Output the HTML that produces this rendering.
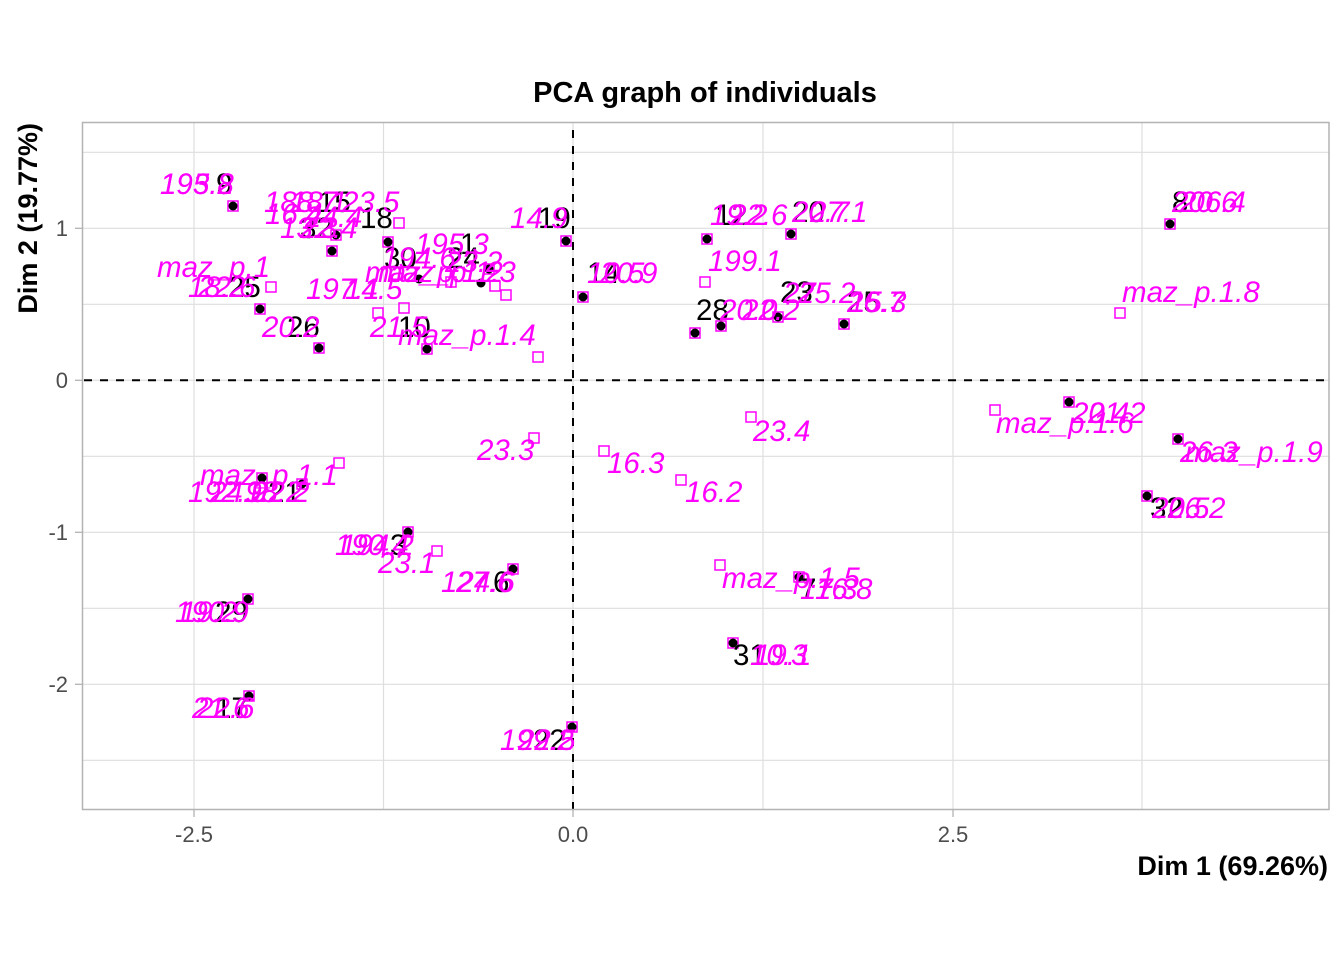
<!DOCTYPE html>
<html><head><meta charset="utf-8"><style>
html,body{margin:0;padding:0;background:#fff;}
svg{display:block;}
.m{fill:#ff00ff;font-style:italic;font-family:"Liberation Sans",sans-serif;font-size:29.5px;}
.b{fill:#000;font-family:"Liberation Sans",sans-serif;font-size:29.5px;}
.tk{fill:#4d4d4d;font-family:"Liberation Sans",sans-serif;font-size:22px;}
.ax{fill:#000;font-family:"Liberation Sans",sans-serif;font-size:27px;font-weight:bold;}
</style></head><body>
<svg width="1344" height="960" viewBox="0 0 1344 960" xmlns="http://www.w3.org/2000/svg">
<rect width="1344" height="960" fill="#fff"/>
<!-- grid -->
<g stroke="#dedede" stroke-width="1.2">
<line x1="194" y1="122" x2="194" y2="810"/>
<line x1="383.5" y1="122" x2="383.5" y2="810"/>
<line x1="573" y1="122" x2="573" y2="810"/>
<line x1="763" y1="122" x2="763" y2="810"/>
<line x1="953" y1="122" x2="953" y2="810"/>
<line x1="1142" y1="122" x2="1142" y2="810"/>
<line x1="82" y1="152.3" x2="1329" y2="152.3"/>
<line x1="82" y1="228.3" x2="1329" y2="228.3"/>
<line x1="82" y1="304.3" x2="1329" y2="304.3"/>
<line x1="82" y1="380.3" x2="1329" y2="380.3"/>
<line x1="82" y1="456.3" x2="1329" y2="456.3"/>
<line x1="82" y1="532.3" x2="1329" y2="532.3"/>
<line x1="82" y1="608.3" x2="1329" y2="608.3"/>
<line x1="82" y1="684.3" x2="1329" y2="684.3"/>
<line x1="82" y1="760.3" x2="1329" y2="760.3"/>
</g>
<!-- dashed axes -->
<g stroke="#000" stroke-width="2" stroke-dasharray="8 8">
<line x1="573" y1="130" x2="573" y2="810"/>
<line x1="84" y1="380.3" x2="1329" y2="380.3"/>
</g>
<!-- panel border -->
<rect x="82.5" y="122.5" width="1246.5" height="687" fill="none" stroke="#b3b3b3" stroke-width="1.5"/>
<!-- ticks -->
<g stroke="#b3b3b3" stroke-width="1.3">
<line x1="194" y1="810" x2="194" y2="817"/>
<line x1="573" y1="810" x2="573" y2="817"/>
<line x1="953" y1="810" x2="953" y2="817"/>
<line x1="75" y1="228.3" x2="82" y2="228.3"/>
<line x1="75" y1="380.3" x2="82" y2="380.3"/>
<line x1="75" y1="532.3" x2="82" y2="532.3"/>
<line x1="75" y1="684.3" x2="82" y2="684.3"/>
</g>
<g class="tk" text-anchor="middle">
<text x="194" y="842">-2.5</text>
<text x="573" y="842">0.0</text>
<text x="953" y="842">2.5</text>
</g>
<g class="tk" text-anchor="end">
<text x="68" y="236">1</text>
<text x="68" y="388">0</text>
<text x="68" y="540">-1</text>
<text x="68" y="692">-2</text>
</g>
<text class="ax" x="705" y="102" text-anchor="middle" style="font-size:29px">PCA graph of individuals</text>
<text class="ax" x="1328" y="875" text-anchor="end">Dim 1 (69.26%)</text>
<text class="ax" transform="translate(37,123) rotate(-90)" text-anchor="end">Dim 2 (19.77%)</text>

<!-- hollow squares -->
<g fill="none" stroke="#ff00ff" stroke-width="1.5">
<rect x="266" y="282" width="10" height="10"/>
<rect x="394" y="218" width="10" height="10"/>
<rect x="446" y="277" width="10" height="10"/>
<rect x="490" y="281" width="10" height="10"/>
<rect x="501" y="290" width="10" height="10"/>
<rect x="373" y="308" width="10" height="10"/>
<rect x="399" y="303" width="10" height="10"/>
<rect x="533" y="352" width="10" height="10"/>
<rect x="700" y="277" width="10" height="10"/>
<rect x="1115" y="308" width="10" height="10"/>
<rect x="990" y="405" width="10" height="10"/>
<rect x="529" y="433" width="10" height="10"/>
<rect x="334" y="458" width="10" height="10"/>
<rect x="432" y="546" width="10" height="10"/>
<rect x="746" y="412" width="10" height="10"/>
<rect x="599" y="446" width="10" height="10"/>
<rect x="676" y="475" width="10" height="10"/>
<rect x="715" y="560" width="10" height="10"/>
<!-- squares around dots -->
<rect x="228" y="201" width="10" height="10"/>
<rect x="331" y="230" width="10" height="10"/>
<rect x="327" y="246" width="10" height="10"/>
<rect x="383" y="237" width="10" height="10"/>
<rect x="484" y="264" width="10" height="10"/>
<rect x="561" y="236" width="10" height="10"/>
<rect x="578" y="292" width="10" height="10"/>
<rect x="255" y="304" width="10" height="10"/>
<rect x="314" y="343" width="10" height="10"/>
<rect x="422" y="344" width="10" height="10"/>
<rect x="702" y="234" width="10" height="10"/>
<rect x="786" y="229" width="10" height="10"/>
<rect x="690" y="328" width="10" height="10"/>
<rect x="716" y="321" width="10" height="10"/>
<rect x="773" y="312" width="10" height="10"/>
<rect x="839" y="319" width="10" height="10"/>
<rect x="1165" y="219" width="10" height="10"/>
<rect x="1064" y="397" width="10" height="10"/>
<rect x="1173" y="434" width="10" height="10"/>
<rect x="1142" y="491" width="10" height="10"/>
<rect x="257" y="473" width="10" height="10"/>
<rect x="297" y="479" width="10" height="10"/>
<rect x="403" y="527" width="10" height="10"/>
<rect x="508" y="564" width="10" height="10"/>
<rect x="243" y="594" width="10" height="10"/>
<rect x="244" y="691" width="10" height="10"/>
<rect x="567" y="722" width="10" height="10"/>
<rect x="794" y="572" width="10" height="10"/>
<rect x="728" y="638" width="10" height="10"/>
</g>
<!-- black dots -->
<g fill="#000">
<circle cx="233" cy="206" r="4.5"/>
<circle cx="336" cy="235" r="4.5"/>
<circle cx="332" cy="251" r="4.5"/>
<circle cx="388" cy="242" r="4.5"/>
<circle cx="489" cy="269" r="4.5"/>
<circle cx="566" cy="241" r="4.5"/>
<circle cx="583" cy="297" r="4.5"/>
<circle cx="260" cy="309" r="4.5"/>
<circle cx="319" cy="348" r="4.5"/>
<circle cx="427" cy="349" r="4.5"/>
<circle cx="707" cy="239" r="4.5"/>
<circle cx="791" cy="234" r="4.5"/>
<circle cx="695" cy="333" r="4.5"/>
<circle cx="721" cy="326" r="4.5"/>
<circle cx="778" cy="317" r="4.5"/>
<circle cx="844" cy="324" r="4.5"/>
<circle cx="1170" cy="224" r="4.5"/>
<circle cx="1069" cy="402" r="4.5"/>
<circle cx="1178" cy="439" r="4.5"/>
<circle cx="1147" cy="496" r="4.5"/>
<circle cx="262" cy="478" r="4.5"/>
<circle cx="302" cy="484" r="4.5"/>
<circle cx="408" cy="532" r="4.5"/>
<circle cx="513" cy="569" r="4.5"/>
<circle cx="248" cy="599" r="4.5"/>
<circle cx="249" cy="696" r="4.5"/>
<circle cx="572" cy="727" r="4.5"/>
<circle cx="799" cy="577" r="4.5"/>
<circle cx="733" cy="643" r="4.5"/>
<circle cx="419" cy="279" r="4.5"/>
<circle cx="481" cy="283" r="4.5"/>
</g>

<!-- black labels -->
<g class="b">
<text x="216" y="194">9</text>
<text x="318" y="212">15</text>
<text x="360" y="228">18</text>
<text x="300" y="238">32</text>
<text x="384" y="268">30</text>
<text x="447" y="268">24</text>
<text x="460" y="254">1</text>
<text x="228" y="297">25</text>
<text x="287" y="337">26</text>
<text x="398" y="337">10</text>
<text x="538" y="228">19</text>
<text x="587" y="283">14</text>
<text x="715" y="225">12</text>
<text x="792" y="222">20</text>
<text x="780" y="302">23</text>
<text x="696" y="320">28</text>
<text x="847" y="312">25</text>
<text x="1172" y="212">8</text>
<text x="1150" y="518">32</text>
<text x="268" y="502">21</text>
<text x="390" y="555">3</text>
<text x="493" y="592">6</text>
<text x="215" y="622">29</text>
<text x="215" y="718">17</text>
<text x="533" y="750">22</text>
<text x="800" y="599">7</text>
<text x="733" y="665">31</text>
</g>

<!-- magenta labels -->
<g class="m">
<text x="160" y="194">195.8</text>
<text x="160" y="194">193.2</text>
<text x="264" y="212">188.7</text>
<text x="290" y="212">18.1</text>
<text x="342" y="212">23.5</text>
<text x="265" y="224">16.4</text>
<text x="305" y="227">24.4</text>
<text x="280" y="238">13.3</text>
<text x="300" y="238">22.4</text>
<text x="415" y="254">195.3</text>
<text x="382" y="268">194.6</text>
<text x="445" y="272">23.2</text>
<text x="365" y="282">maz_p.1.2</text>
<text x="378" y="282">maz_p.1.3</text>
<text x="157" y="277">maz_p.1</text>
<text x="188" y="297">18.2</text>
<text x="198" y="297">22.6</text>
<text x="306" y="299">197.1</text>
<text x="345" y="299">14.5</text>
<text x="262" y="337">20.2</text>
<text x="370" y="337">21.5</text>
<text x="398" y="345">maz_p.1.4</text>
<text x="510" y="228">14.9</text>
<text x="587" y="283">10.5</text>
<text x="600" y="283">20.9</text>
<text x="710" y="225">19.2</text>
<text x="730" y="225">22.6</text>
<text x="792" y="222">20.7</text>
<text x="810" y="222">27.1</text>
<text x="708" y="271">199.1</text>
<text x="783" y="303">27</text>
<text x="798" y="303">25.2</text>
<text x="720" y="320">20.0</text>
<text x="742" y="320">22.2</text>
<text x="847" y="312">26.7</text>
<text x="849" y="312">15.3</text>
<text x="1172" y="212">206.4</text>
<text x="1180" y="212">20.6</text>
<text x="1122" y="302">maz_p.1.8</text>
<text x="996" y="433">maz_p.1.6</text>
<text x="1072" y="423">20.4</text>
<text x="1088" y="423">21.2</text>
<text x="1185" y="462">maz_p.1.9</text>
<text x="1180" y="462">26.3</text>
<text x="1152" y="518">20.5</text>
<text x="1168" y="518">26.2</text>
<text x="200" y="485">maz_p.1.1</text>
<text x="188" y="502">192.9</text>
<text x="210" y="502">24.9</text>
<text x="245" y="502">18.2</text>
<text x="252" y="502">22.2</text>
<text x="335" y="555">190.4</text>
<text x="340" y="555">194.2</text>
<text x="378" y="573">23.1</text>
<text x="441" y="592">124.6</text>
<text x="456" y="592">27.6</text>
<text x="175" y="622">190.9</text>
<text x="180" y="622">19.2</text>
<text x="192" y="718">21.6</text>
<text x="197" y="718">22.6</text>
<text x="500" y="750">199.2</text>
<text x="518" y="750">22.5</text>
<text x="477" y="460">23.3</text>
<text x="607" y="473">16.3</text>
<text x="685" y="502">16.2</text>
<text x="753" y="441">23.4</text>
<text x="722" y="588">maz_p.1.5</text>
<text x="800" y="599">17.3</text>
<text x="815" y="599">16.8</text>
<text x="750" y="665">10.3</text>
<text x="754" y="665">19.1</text>
</g>
</svg>
</body></html>
